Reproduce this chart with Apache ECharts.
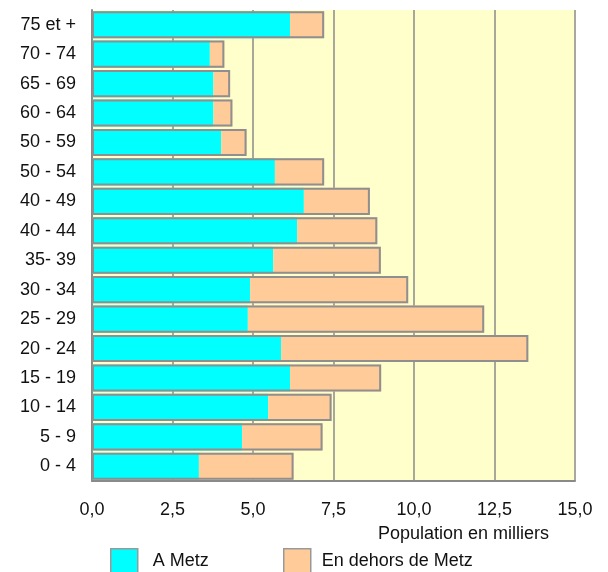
<!DOCTYPE html>
<html><head><meta charset="utf-8">
<script src="https://cdn.jsdelivr.net/npm/echarts@6/dist/echarts.min.js"></script>
<style>html,body{margin:0;padding:0;background:#fff}#c{width:608px;height:572px}</style>
</head><body><div id="c"></div>
<script>
const categories = ['75 et +','70 - 74','65 - 69','60 - 64','50 - 59','50 - 54','40 - 49','40 - 44','35- 39','30 - 34','25 - 29','20 - 24','15 - 19','10 - 14','5 - 9','0 - 4'];
const aMetz =       [6.15, 3.66, 3.77, 3.77, 4.01, 5.68, 6.58, 6.37, 5.63, 4.91, 4.84, 5.87, 6.15, 5.47, 4.66, 3.32];
const horsMetz =    [1.06, 0.45, 0.52, 0.59, 0.79, 1.53, 2.05, 2.49, 3.34, 4.91, 7.34, 7.68, 2.83, 1.97, 2.50, 2.94];
const xTicks = [0, 2.5, 5, 7.5, 10, 12.5, 15];
const totals = aMetz.map((v,i)=>+(v+horsMetz[i]).toFixed(2));
const FONT = 'Liberation Sans, Arial, sans-serif';
const FS = 18;
const chart = echarts.init(document.getElementById('c'), null, {renderer:'canvas'});
chart.setOption({
  animation:false,
  backgroundColor:'#ffffff',
  textStyle:{fontFamily:FONT},
  title:{text:'Population en milliers', right:59, top:525, padding:0,
    textStyle:{fontFamily:FONT, fontSize:FS, fontWeight:'normal', color:'#111'}},
  legend:[
    {data:['A Metz'], left:110, top:548, padding:0, itemWidth:27, itemHeight:24, icon:'rect',
      textStyle:{fontFamily:FONT, fontSize:FS, color:'#111', padding:[0,0,0,10]},
      itemStyle:{borderColor:'#999', borderWidth:1.5}},
    {data:['En dehors de Metz'], left:283, top:548, padding:0, itemWidth:27, itemHeight:24, icon:'rect',
      textStyle:{fontFamily:FONT, fontSize:FS, color:'#111', padding:[0,0,0,6]},
      itemStyle:{borderColor:'#999', borderWidth:1.5}}
  ],
  grid:{left:92, right:33, top:10, bottom:91, show:true, backgroundColor:'#FFFFCC', borderWidth:0, containLabel:false},
  xAxis:{type:'value', min:xTicks[0], max:xTicks[xTicks.length-1], interval:2.5,
    axisLine:{show:true, lineStyle:{color:'#8a8a8a', width:2}},
    axisTick:{show:false},
    splitLine:{show:true, lineStyle:{color:'#8a8a8a', width:1.5}},
    axisLabel:{margin:20, fontFamily:FONT, fontSize:FS, color:'#111',
      formatter:v=>v.toFixed(1).replace('.',','), showMaxLabel:true, showMinLabel:true}},
  yAxis:{type:'category', data:categories, inverse:true,
    axisLine:{show:true, lineStyle:{color:'#8a8a8a', width:2}},
    axisTick:{show:false},
    axisLabel:{margin:16, fontFamily:FONT, fontSize:FS, color:'#111'}},
  series:[
    {name:'A Metz', type:'bar', stack:'t', data:aMetz, barCategoryGap:'8%',
      itemStyle:{color:'#00FFFF', borderWidth:0}, z:2},
    {name:'En dehors de Metz', type:'bar', stack:'t', data:horsMetz,
      itemStyle:{color:'#FFCC99', borderWidth:0}, z:2},
    {name:'outline', type:'bar', data:totals, barGap:'-100%', barCategoryGap:'8%',
      itemStyle:{color:'rgba(0,0,0,0)', borderColor:'#8f8f8f', borderWidth:2}, z:3, silent:true}
  ]
});
</script></body></html>
